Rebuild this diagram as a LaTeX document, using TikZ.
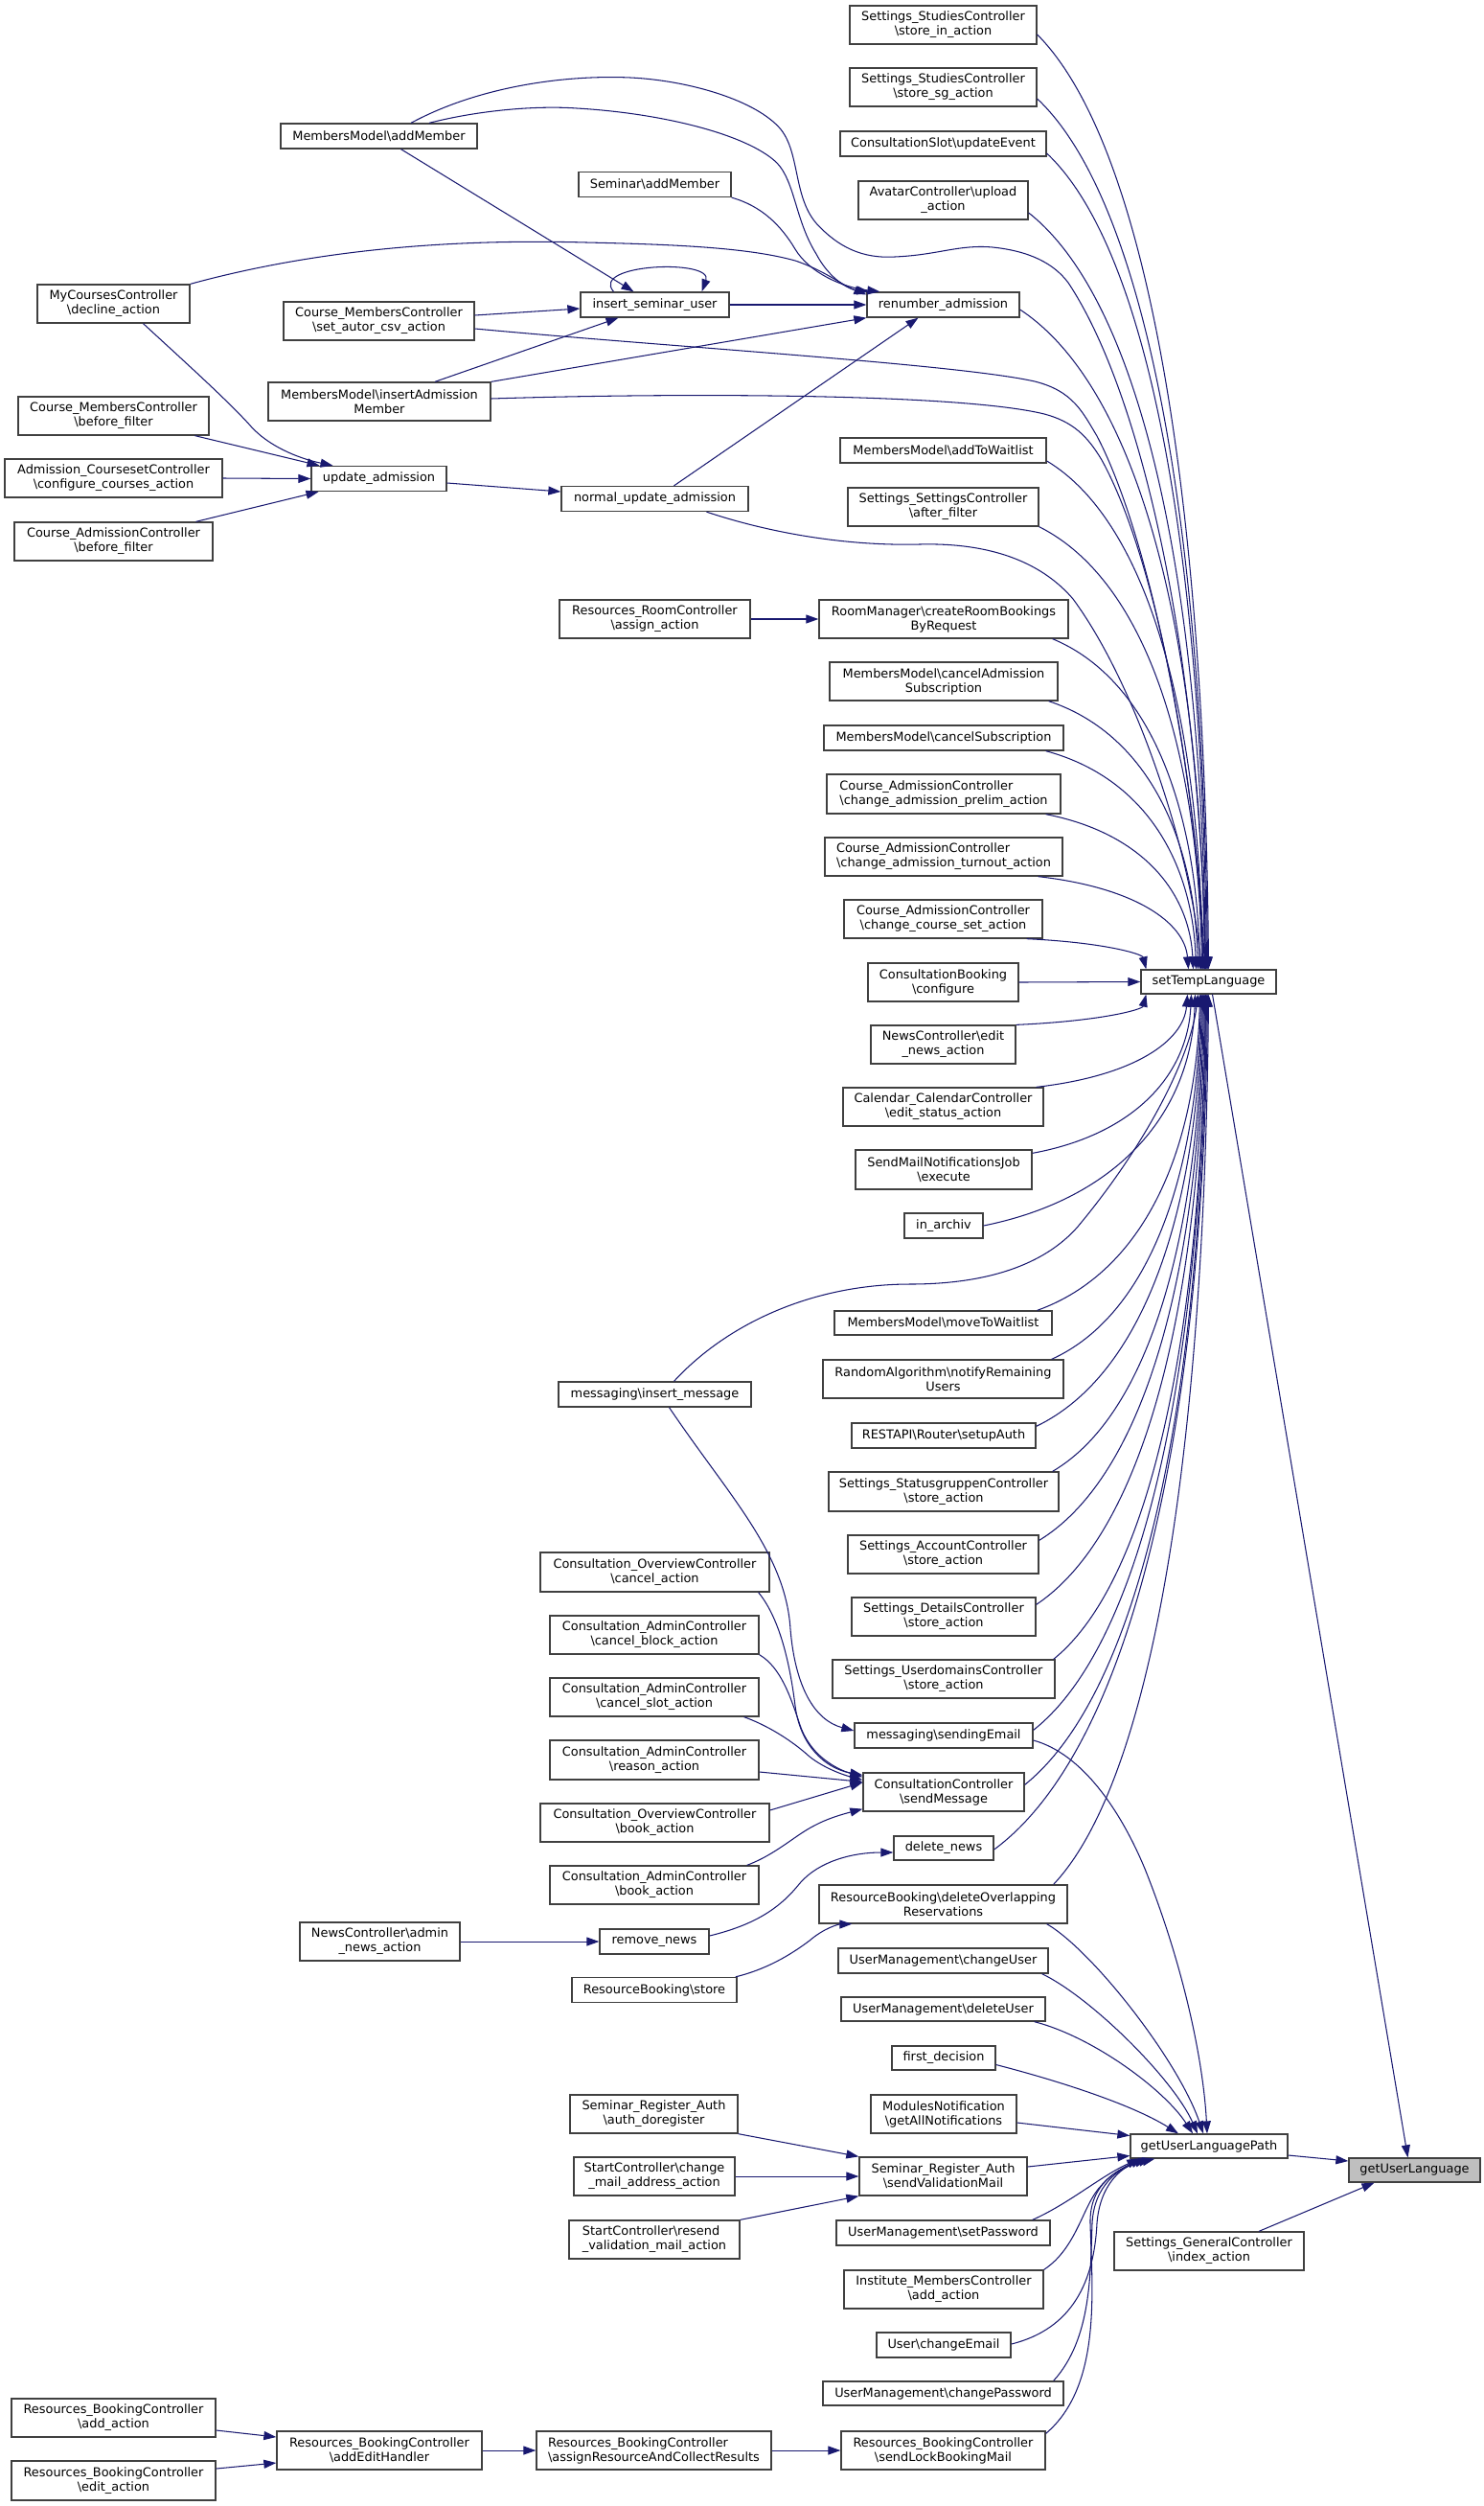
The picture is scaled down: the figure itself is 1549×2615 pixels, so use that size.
\documentclass[tikz,border=0pt]{standalone}
\usepackage{fontspec}
\setmainfont{DejaVu Sans}
\usetikzlibrary{calc,arrows.meta}
\definecolor{edgeblue}{HTML}{191970}
\definecolor{boxgrey}{HTML}{BFBFBF}
\tikzset{
  box/.style={draw=black!75, line width=1.3pt, fill=white, inner sep=0pt, align=center, font=\fontsize{12.9}{15}\selectfont},
  lbox/.style={align=left},
  edge/.style={draw=edgeblue, line width=1.05pt, -{Triangle[length=13pt,width=9pt]}},
}
\newcommand\bsl{\textbackslash}
\newcommand\nd[6][]{\node[box,minimum width=#4pt,minimum height=#5pt,#1] (#2) at (#3) {#6};}
\newcommand\gedge[2]{\draw[edge] let \p1=(#1), \p2=(#2) in (\p1) .. controls ({\x1+0.65*(\x2-\x1)},{\y1+0.12*(\y2-\y1)}) and ({\x2-4pt},{0.5*(\y1+\y2)}) .. (\p2);}
\begin{document}
\begin{tikzpicture}[x=1pt,y=-1pt]
\useasboundingbox (0,0) rectangle (1549,2615);
% column 0
\nd{dec}{118.5,317}{159}{40}{MyCoursesController\\\bsl decline\_action}
\nd{cmbf}{118.5,434}{199}{40}{Course\_MembersController\\\bsl before\_filter}
\nd{ccfg}{118.5,499}{227}{40}{Admission\_CoursesetController\\\bsl configure\_courses\_action}
\nd{cabf}{118.5,565}{207}{40}{Course\_AdmissionController\\\bsl before\_filter}
\nd{rbadd}{118.5,2523}{213}{40}{Resources\_BookingController\\\bsl add\_action}
\nd{rbedit}{118.5,2588.5}{213}{41}{Resources\_BookingController\\\bsl edit\_action}
% column 1
\nd{amm}{395.5,142}{205}{26}{MembersModel\bsl addMember}
\nd{sac}{395.5,335}{199}{40}{Course\_MembersController\\\bsl set\_autor\_csv\_action}
\nd{iam}{396,419}{232}{40}{MembersModel\bsl insertAdmission\\Member}
\nd{uad}{395.5,499.5}{141}{26}{update\_admission}
\nd{ana}{396.5,2026}{167}{40}{NewsController\bsl admin\\\_news\_action}
\nd{aeh}{396,2557}{214}{40}{Resources\_BookingController\\\bsl addEditHandler}
% column 2
\nd{sam}{683.5,192.5}{159}{26}{Seminar\bsl addMember}
\nd{isu}{683.5,318}{155}{26}{insert\_seminar\_user}
\nd{nua}{683.5,520.5}{195}{26}{normal\_update\_admission}
\nd{raa}{683.5,646}{199}{40}{Resources\_RoomController\\\bsl assign\_action}
\nd{imsg}{683.5,1455}{201}{26}{messaging\bsl insert\_message}
\nd{oca}{683.5,1640.5}{239}{41}{Consultation\_OverviewController\\\bsl cancel\_action}
\nd{acb}{683,1706}{218}{40}{Consultation\_AdminController\\\bsl cancel\_block\_action}
\nd{acs}{683,1771}{218}{40}{Consultation\_AdminController\\\bsl cancel\_slot\_action}
\nd{ara}{683,1836.5}{218}{41}{Consultation\_AdminController\\\bsl reason\_action}
\nd{oba}{683.5,1902}{239}{40}{Consultation\_OverviewController\\\bsl book\_action}
\nd{aba}{683,1967}{218}{40}{Consultation\_AdminController\\\bsl book\_action}
\nd{rmn}{683,2026}{114}{26}{remove\_news}
\nd{rbs}{683,2076.5}{172}{26}{ResourceBooking\bsl store}
\nd{adr}{682.5,2206}{175}{40}{Seminar\_Register\_Auth\\\bsl auth\_doregister}
\nd{cma}{683,2271}{168}{40}{StartController\bsl change\\\_mail\_address\_action}
\nd[lbox]{rvm}{683,2337}{178}{40}{StartController\bsl resend\\\_validation\_mail\_action}
\nd[lbox]{arc}{682.5,2557}{245}{40}{Resources\_BookingController\\\bsl assignResourceAndCollectResults}
% column 3
\nd{sia}{984.5,26}{195}{40}{Settings\_StudiesController\\\bsl store\_in\_action}
\nd{ssg}{984.5,91}{195}{40}{Settings\_StudiesController\\\bsl store\_sg\_action}
\nd{cue}{984.5,150}{215}{26}{ConsultationSlot\bsl updateEvent}
\nd{aup}{984.5,209}{177}{40}{AvatarController\bsl upload\\\_action}
\nd{ren}{984.5,318}{159}{26}{renumber\_admission}
\nd{atw}{984.5,470}{215}{26}{MembersModel\bsl addToWaitlist}
\nd{saf}{984.5,529}{199}{40}{Settings\_SettingsController\\\bsl after\_filter}
\nd{crb}{985,646}{260}{40}{RoomManager\bsl createRoomBookings\\ByRequest}
\nd{cas}{985,711}{238}{40}{MembersModel\bsl cancelAdmission\\Subscription}
\nd{csu}{985,770}{250}{26}{MembersModel\bsl cancelSubscription}
\nd[lbox]{cap}{985,828.5}{244}{41}{Course\_AdmissionController\\\bsl change\_admission\_prelim\_action}
\nd[lbox]{cat}{985,894}{248}{40}{Course\_AdmissionController\\\bsl change\_admission\_turnout\_action}
\nd{ccs}{984.5,959}{207}{40}{Course\_AdmissionController\\\bsl change\_course\_set\_action}
\nd{cbc}{984.5,1025}{157}{40}{ConsultationBooking\\\bsl configure}
\nd{nea}{984.5,1090}{151}{40}{NewsController\bsl edit\\\_news\_action}
\nd{ces}{984.5,1155}{209}{40}{Calendar\_CalendarController\\\bsl edit\_status\_action}
\nd{smx}{985,1220.5}{184}{41}{SendMailNotificationsJob\\\bsl execute}
\nd{iar}{985,1279}{82}{26}{in\_archiv}
\nd{mtw}{984.5,1380.5}{227}{25}{MembersModel\bsl moveToWaitlist}
\nd{nru}{984.5,1439}{251}{40}{RandomAlgorithm\bsl notifyRemaining\\Users}
\nd{rsa}{985,1498}{192}{26}{RESTAPI\bsl Router\bsl setupAuth}
\nd{ssa}{985,1556.5}{240}{41}{Settings\_StatusgruppenController\\\bsl store\_action}
\nd{acc}{984.5,1622}{199}{40}{Settings\_AccountController\\\bsl store\_action}
\nd{sds}{985,1687}{192}{40}{Settings\_DetailsController\\\bsl store\_action}
\nd{sud}{985,1752}{232}{40}{Settings\_UserdomainsController\\\bsl store\_action}
\nd{mse}{985,1811}{186}{26}{messaging\bsl sendingEmail}
\nd{csm}{985,1870}{168}{40}{ConsultationController\\\bsl sendMessage}
\nd{dln}{985,1928.5}{104}{25}{delete\_news}
\nd{dor}{984.5,1987}{259}{40}{ResourceBooking\bsl deleteOverlapping\\Reservations}
\nd{cus}{984.5,2046}{219}{26}{UserManagement\bsl changeUser}
\nd{dus}{984.5,2096.5}{213}{25}{UserManagement\bsl deleteUser}
\nd{fdc}{985,2147.5}{108}{25}{first\_decision}
\nd{gan}{985,2206}{152}{40}{ModulesNotification\\\bsl getAllNotifications}
\nd{svm}{984.5,2271}{175}{40}{Seminar\_Register\_Auth\\\bsl sendValidationMail}
\nd{spw}{984.5,2330}{223}{26}{UserManagement\bsl setPassword}
\nd{ima}{985,2389}{208}{40}{Institute\_MembersController\\\bsl add\_action}
\nd{uce}{985,2447}{140}{26}{User\bsl changeEmail}
\nd{cpw}{984.5,2497.5}{251}{25}{UserManagement\bsl changePassword}
\nd{slb}{984.5,2557}{213}{40}{Resources\_BookingController\\\bsl sendLockBookingMail}
% column 4 and 5
\nd{stl}{1261.5,1024.5}{141}{25}{setTempLanguage}
\nd{gulp}{1262,2239.5}{164}{25}{getUserLanguagePath}
\nd{gia}{1262,2349}{198}{40}{Settings\_GeneralController\\\bsl index\_action}
\nd[fill=boxgrey]{gul}{1476.5,2264.5}{137}{25}{getUserLanguage}

% ---- edges: left part
\draw[edge] ([xshift=85pt]cmbf.south) -- ([xshift=-62pt]uad.north);
\draw[edge] (ccfg.east) -- (uad.west);
\draw[edge] ([xshift=86pt]cabf.north) -- ([xshift=-63pt]uad.south);
\draw[edge] ([xshift=31pt]dec.south) .. controls (190,375) and (240,420) .. (262,445) .. controls (280,465) and (310,478) .. ([xshift=-48pt]uad.north);
\draw[edge] ([yshift=-4.5pt]uad.east) -- ([yshift=7.5pt]nua.west);
\draw[edge] ([xshift=23pt]amm.south) -- ([xshift=-22pt]isu.north);
\draw[edge] ([yshift=6pt]sac.east) -- ([yshift=-4pt]isu.west);
\draw[edge] ([xshift=58pt]iam.north) -- ([xshift=-38pt]isu.south);
\draw[edge] ([xshift=-43pt]isu.north) .. controls (615,275) and (745,270) .. ([xshift=49pt]isu.north);
\draw[edge] (isu.east) -- (ren.west);
\draw[edge] (iam.north east) -- (ren.south west);
\draw[edge] ([xshift=20pt]nua.north) -- ([xshift=-26pt]ren.south);
\draw[edge] (dec.north east) .. controls (350,255) and (500,250) .. (612,253) .. controls (700,255) and (780,258) .. (830,272) .. controls (860,282) and (880,298) .. ([yshift=-3pt]ren.north west);
\draw[edge] ([xshift=52.5pt]amm.north) .. controls (500,115) and (560,110) .. (602,113) .. controls (690,118) and (780,140) .. (811,170) .. controls (830,190) and (830,230) .. (852,265) .. controls (865,290) and (885,302) .. ([xshift=3pt]ren.north west);
\draw[edge] (sam.south east) .. controls (795,215) and (815,235) .. (830,260) .. controls (845,285) and (880,300) .. ([xshift=14pt]ren.north west);
\draw[edge] (raa.east) -- (crb.west);
% long edges into setTempLanguage from left
\draw[edge] ([xshift=33.5pt]amm.north) .. controls (500,90) and (590,78) .. (658,81) .. controls (720,84) and (790,105) .. (815,135) .. controls (835,160) and (828,205) .. (852,233) .. controls (875,258) and (900,270) .. (934,268) .. controls (980,266) and (1000,255) .. (1036,258) .. controls (1075,262) and (1100,275) .. (1115,295) .. controls (1185,400) and (1250,650) .. ([xshift=-3pt]stl.north);
\draw[edge] ([yshift=-8pt]sac.east) .. controls (700,362) and (1000,380) .. (1080,398) .. controls (1120,408) and (1130,430) .. (1145,455) .. controls (1200,560) and (1248,800) .. ([xshift=-4pt]stl.north);
\draw[edge] ([yshift=3pt]iam.east) .. controls (700,410) and (1000,410) .. (1090,432) .. controls (1120,440) and (1135,455) .. (1150,480) .. controls (1205,580) and (1248,800) .. ([xshift=-5pt]stl.north);
\draw[edge] ([xshift=54pt]nua.south) .. controls (800,555) and (880,570) .. (960,568) .. controls (1040,566) and (1090,590) .. (1120,625) .. controls (1190,720) and (1245,900) .. ([xshift=-8pt]stl.north);
\draw[edge] ([xshift=20pt]imsg.north) .. controls (760,1380) and (850,1340) .. (950,1340) .. controls (1030,1340) and (1090,1320) .. (1125,1280) .. controls (1200,1190) and (1243,1100) .. ([xshift=-11pt]stl.south);
% generic edges into setTempLanguage
\gedge{[yshift=-10pt]sia.east}{stl.north}
\gedge{[yshift=-12pt]ssg.east}{[xshift=-1pt]stl.north}
\gedge{[yshift=-10pt]cue.east}{[xshift=-2pt]stl.north}
\gedge{[yshift=-13pt]aup.east}{[xshift=-3pt]stl.north}
\gedge{[yshift=-5pt]ren.east}{[xshift=-4pt]stl.north}
\gedge{[yshift=-11pt]atw.east}{[xshift=-6pt]stl.north}
\gedge{saf.south east}{[xshift=-7pt]stl.north}
\gedge{[xshift=-17pt]crb.south east}{[xshift=-9pt]stl.north}
\gedge{[xshift=-10pt]cas.south east}{[xshift=-11pt]stl.north}
\gedge{[xshift=-19pt]csu.south east}{[xshift=-13pt]stl.north}
\gedge{[xshift=-16pt]cap.south east}{[xshift=-16pt]stl.north}
\gedge{[xshift=-26pt]cat.south east}{[xshift=-21pt]stl.north}
\gedge{[xshift=-17pt]ccs.south east}{[xshift=6pt]stl.north west}
\draw[edge] (cbc.east) -- (stl.west);
\gedge{nea.north east}{[xshift=6pt]stl.south west}
\gedge{[xshift=-8pt]ces.north east}{[xshift=-22pt]stl.south}
\gedge{[yshift=-4pt]smx.north east}{[xshift=-18pt]stl.south}
\gedge{iar.east}{[xshift=-14pt]stl.south}
\gedge{[xshift=-16pt]mtw.north east}{[xshift=-9pt]stl.south}
\gedge{[xshift=-13pt]nru.north east}{[xshift=-8pt]stl.south}
\gedge{[yshift=-4pt]rsa.north east}{[xshift=-7pt]stl.south}
\gedge{[xshift=-7pt]ssa.north east}{[xshift=-6pt]stl.south}
\gedge{[yshift=-6pt]acc.north east}{[xshift=-5pt]stl.south}
\gedge{[yshift=-8pt]sds.north east}{[xshift=-4pt]stl.south}
\gedge{[xshift=-2pt]sud.north east}{[xshift=-3pt]stl.south}
\gedge{[yshift=-8pt]mse.north east}{[xshift=-3pt]stl.south}
\gedge{[yshift=-13pt]csm.north east}{[xshift=-2pt]stl.south}
\gedge{[yshift=-1.5pt]dln.east}{[xshift=-1pt]stl.south}
\gedge{[xshift=-15pt]dor.north east}{stl.south}
% consultation / messaging
\draw[edge] ([xshift=15pt]imsg.south) .. controls (760,1560) and (820,1620) .. (825,1700) .. controls (830,1760) and (850,1795) .. ([yshift=5pt]mse.west);
\draw[edge] ([xshift=-12pt]oca.south east) .. controls (815,1690) and (825,1740) .. (830,1780) .. controls (835,1820) and (860,1845) .. ([yshift=-3pt]csm.north west);
\draw[edge] (acb.south east) .. controls (815,1740) and (825,1770) .. (835,1800) .. controls (845,1830) and (870,1845) .. ([yshift=-5pt]csm.north west);
\draw[edge] ([xshift=-16pt]acs.south east) .. controls (800,1800) and (825,1815) .. (845,1833) .. controls (860,1845) and (880,1852) .. ([yshift=-8pt]csm.north west);
\draw[edge] ([yshift=-12.5pt]ara.east) -- ([yshift=-10pt]csm.north west);
\draw[edge] ([yshift=13pt]oba.east) -- ([yshift=10pt]csm.west);
\draw[edge] ([xshift=-13pt]aba.north east) .. controls (810,1935) and (830,1915) .. (850,1905) .. controls (865,1897) and (880,1893) .. ([yshift=3pt]csm.south west);
\draw[edge] (ana.east) -- (rmn.west);
\draw[edge] ([yshift=6pt]rmn.east) .. controls (790,2008) and (815,1990) .. (835,1965) .. controls (855,1942) and (890,1933) .. ([yshift=-4.5pt]dln.west);
\draw[edge] ([xshift=-2pt]rbs.north east) .. controls (800,2055) and (825,2040) .. (845,2025) .. controls (860,2012) and (875,2008) .. ([xshift=35pt]dor.south west);
% registration / resources
\draw[edge] (adr.south east) -- (svm.north west);
\draw[edge] (cma.east) -- (svm.west);
\draw[edge] (rvm.north east) -- (svm.south west);
\draw[edge] ([yshift=-13pt]rbadd.east) -- ([yshift=14pt]aeh.west);
\draw[edge] ([yshift=12.5pt]rbedit.east) -- ([yshift=-13pt]aeh.west);
\draw[edge] (aeh.east) -- (arc.west);
\draw[edge] (arc.east) -- (slb.west);
% into getUserLanguagePath
\draw[edge] ([yshift=-5pt]mse.east) .. controls (1130,1830) and (1170,1890) .. (1195,1950) .. controls (1235,2050) and (1256,2150) .. ([xshift=-2pt]gulp.north);
\draw[edge] ([xshift=-22pt]dor.south east) .. controls (1140,2035) and (1230,2150) .. ([xshift=-6pt]gulp.north);
\draw[edge] ([xshift=-7pt]cus.south east) .. controls (1140,2085) and (1225,2170) .. ([xshift=-12pt]gulp.north);
\draw[edge] ([xshift=-12pt]dus.south east) .. controls (1140,2125) and (1215,2180) .. ([xshift=-17pt]gulp.north);
\draw[edge] ([yshift=-7pt]fdc.east) .. controls (1100,2170) and (1180,2195) .. ([xshift=-32pt]gulp.north);
\draw[edge] ([yshift=-9pt]gan.east) -- ([yshift=11pt]gulp.west);
\draw[edge] ([yshift=10pt]svm.east) -- ([yshift=-10pt]gulp.west);
\draw[edge] ([xshift=-19pt]spw.north east) .. controls (1115,2300) and (1150,2270) .. ([xshift=10pt]gulp.south west);
\draw[edge] (ima.north east) .. controls (1125,2345) and (1130,2300) .. (1150,2280) .. controls (1162,2266) and (1180,2258) .. ([xshift=14pt]gulp.south west);
\draw[edge] ([yshift=1pt]uce.east) .. controls (1120,2430) and (1142,2380) .. (1145,2320) .. controls (1148,2280) and (1170,2262) .. ([xshift=18pt]gulp.south west);
\draw[edge] ([xshift=-11pt]cpw.north east) .. controls (1140,2440) and (1138,2370) .. (1140,2320) .. controls (1142,2280) and (1168,2262) .. ([xshift=22pt]gulp.south west);
\draw[edge] ([yshift=-3pt]slb.north east) .. controls (1150,2490) and (1140,2390) .. (1138,2320) .. controls (1137,2280) and (1165,2262) .. ([xshift=26pt]gulp.south west);
% into getUserLanguage
\draw[edge] ([yshift=-9.5pt]gulp.east) -- ([yshift=9.5pt]gul.west);
\draw[edge] ([xshift=4pt]stl.south) -- ([xshift=-7pt]gul.north);
\draw[edge] ([xshift=52pt]gia.north) -- ([xshift=-42pt]gul.south);
\end{tikzpicture}
\end{document}
